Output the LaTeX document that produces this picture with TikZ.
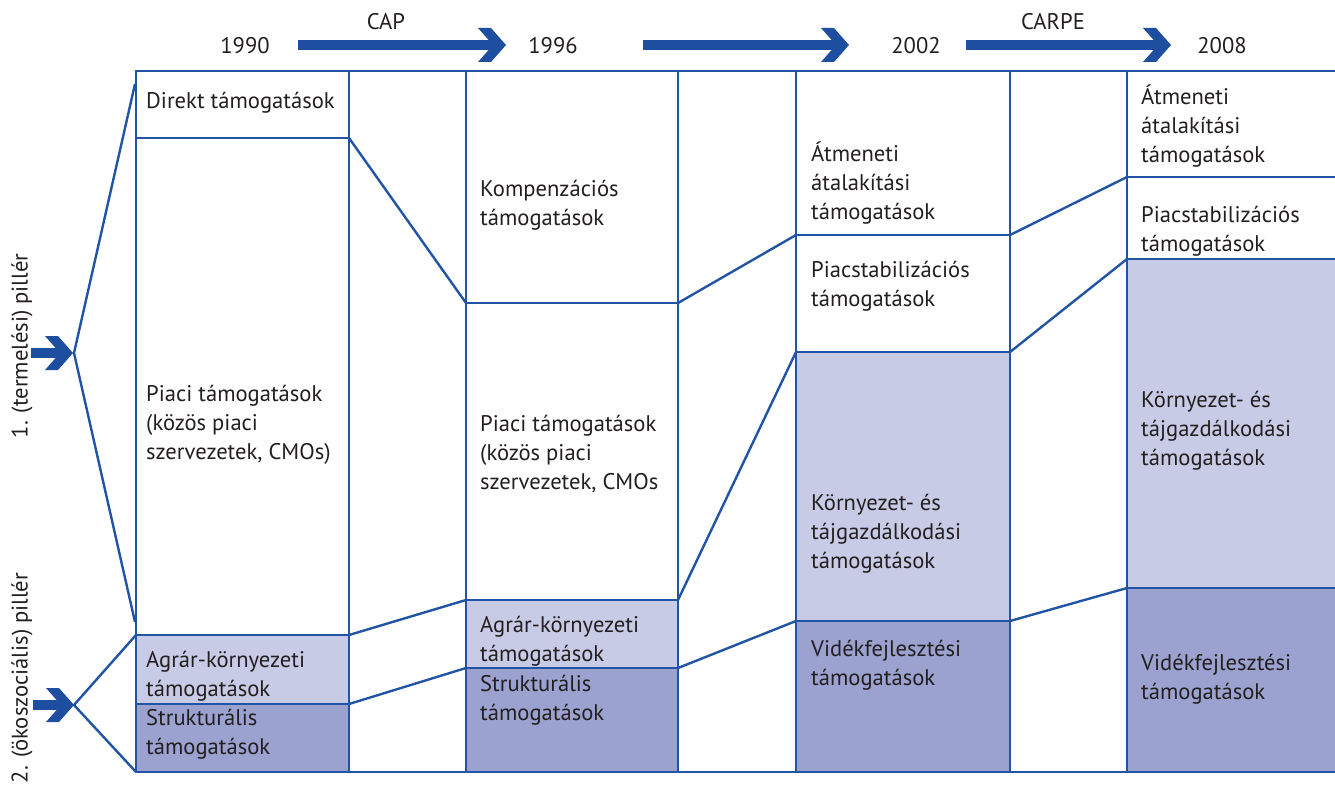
\documentclass[tikz,border=0pt]{standalone}
\usepackage{fontspec}
\setmainfont{PT Sans}
\usetikzlibrary{calc}
\definecolor{lineblue}{RGB}{33,84,164}
\definecolor{arrowblue}{RGB}{30,78,160}
\definecolor{lightfill}{RGB}{200,203,230}
\definecolor{darkfill}{RGB}{155,162,208}
\definecolor{textcol}{RGB}{35,31,32}
\newcommand\fs{\fontsize{22.6}{29}\selectfont}
\newcommand\tl[1]{\begin{tabular}[t]{@{}l@{}}#1\end{tabular}}
\newcommand\chevarrow[2]{%
  \fill[arrowblue] ($(#1)+(0,-5)$) rectangle ($(#2)+(-12,5)$);
  \fill[arrowblue] ($(#2)+(-28,-17)$) -- ($(#2)+(-15,-17)$) -- (#2) -- ($(#2)+(-15,17)$) -- ($(#2)+(-28,17)$) -- ($(#2)+(-13,0)$) -- cycle;
}
\tikzset{
  cell/.style={draw=lineblue, line width=2.4pt, anchor=north west, inner sep=0pt, outer sep=0pt},
  plain/.style={cell, fill=white},
  light/.style={cell, fill=lightfill},
  dark/.style={cell, fill=darkfill},
  conn/.style={draw=lineblue, line width=2.4pt, line join=round},
  lbl/.style={anchor=base west, inner sep=0pt, text=textcol, font=\fs},
  year/.style={inner sep=0pt, text=textcol, font=\fs},
  pillar/.style={inner sep=0pt, text=textcol, font=\fs, rotate=90},
}
\begin{document}
\begin{tikzpicture}[x=1pt,y=-1pt]
\useasboundingbox (0,0) rectangle (1335,789);

% column 1990
\node[plain, minimum width=213pt, minimum height=67pt]  (d90dir) at (136,71) {};
\node[plain, minimum width=213pt, minimum height=497pt] (d90pia) at (136,138) {};
\node[light, minimum width=213pt, minimum height=69pt]  (d90agr) at (136,635) {};
\node[dark,  minimum width=213pt, minimum height=68pt]  (d90str) at (136,704) {};
% column 1996
\node[plain, minimum width=212pt, minimum height=232pt] (d96komp) at (466,71) {};
\node[plain, minimum width=212pt, minimum height=297pt] (d96pia) at (466,303) {};
\node[light, minimum width=212pt, minimum height=68pt]  (d96agr) at (466,600) {};
\node[dark,  minimum width=212pt, minimum height=104pt] (d96str) at (466,668) {};
% column 2002
\node[plain, minimum width=214pt, minimum height=164pt] (d02atm) at (796,71) {};
\node[plain, minimum width=214pt, minimum height=117pt] (d02pst) at (796,235) {};
\node[light, minimum width=214pt, minimum height=269pt] (d02kor) at (796,352) {};
\node[dark,  minimum width=214pt, minimum height=151pt] (d02vid) at (796,621) {};
% column 2008
\node[plain, minimum width=230pt, minimum height=106pt] (d08atm) at (1127,71) {};
\node[plain, minimum width=230pt, minimum height=82pt]  (d08pst) at (1127,177) {};
\node[light, minimum width=230pt, minimum height=329pt] (d08kor) at (1127,259) {};
\node[dark,  minimum width=230pt, minimum height=184pt] (d08vid) at (1127,588) {};

% outer top and bottom lines
\coordinate (topR) at (1345,71);
\coordinate (botR) at (1345,772);
\draw[conn] (d90dir.north west) -- (topR);
\draw[conn] (d90str.south west) -- (botR);

% connectors between columns
\draw[conn] (d90dir.south east) -- (d96komp.south west);
\draw[conn] (d90agr.north east) -- (d96agr.north west);
\draw[conn] (d90str.north east) -- (d96str.north west);
\draw[conn] (d96komp.south east) -- (d02atm.south west);
\draw[conn] (d96agr.north east) -- (d02kor.north west);
\draw[conn] (d96str.north east) -- (d02vid.north west);
\draw[conn] (d02atm.south east) -- (d08atm.south west);
\draw[conn] (d02pst.south east) -- (d08pst.south west);
\draw[conn] (d02vid.north east) -- (d08vid.north west);

% pillar braces
\coordinate (b1top) at (135,84);
\coordinate (b1v) at (74,353);
\coordinate (b1bot) at (135,622);
\coordinate (b2v) at (74,705);
\draw[conn] (b1top) -- (b1v) -- (b1bot);
\draw[conn] (d90agr.north west) -- (b2v) -- (d90str.south west);

% texts 1990
\node[lbl] (t90dir) at (146,109) {\tl{Direkt támogatások}};
\node[lbl] (t90pia) at (146,401) {\tl{Piaci támogatások\\(közös piaci\\szervezetek, CMOs)}};
\node[lbl] (t90agr) at (146,667) {\tl{Agrár-környezeti\\támogatások}};
\node[lbl] (t90str) at (146,725) {\tl{Strukturális\\támogatások}};
% texts 1996
\node[lbl] (t96komp) at (480,196) {\tl{Kompenzációs\\támogatások}};
\node[lbl] (t96pia) at (480,431) {\tl{Piaci támogatások\\(közös piaci\\szervezetek, CMOs}};
\node[lbl] (t96agr) at (480,632) {\tl{Agrár-környezeti\\támogatások}};
\node[lbl] (t96str) at (480,691) {\tl{Strukturális\\támogatások}};
% texts 2002
\node[lbl] (t02atm) at (811,161) {\tl{Átmeneti\\átalakítási\\támogatások}};
\node[lbl] (t02pst) at (811,277) {\tl{Piacstabilizációs\\támogatások}};
\node[lbl] (t02kor) at (811,510) {\tl{Környezet- és\\tájgazdálkodási\\támogatások}};
\node[lbl] (t02vid) at (811,656) {\tl{Vidékfejlesztési\\támogatások}};
% texts 2008
\node[lbl] (t08atm) at (1141,105) {\tl{Átmeneti\\átalakítási\\támogatások}};
\node[lbl] (t08pst) at (1141,222) {\tl{Piacstabilizációs\\támogatások}};
\node[lbl] (t08kor) at (1141,407) {\tl{Környezet- és\\tájgazdálkodási\\támogatások}};
\node[lbl] (t08vid) at (1141,670) {\tl{Vidékfejlesztési\\támogatások}};

% timeline
\node[year] (y1990) at (245,46) {1990};
\node[year] (y1996) at (553,46) {1996};
\node[year] (y2002) at (916,46) {2002};
\node[year] (y2008) at (1222,46) {2008};
\node[year] (lcap) at (386,22) {CAP};
\node[year] (lcarpe) at (1053,22) {CARPE};
\coordinate (a1s) at (298,45); \coordinate (a1t) at (506,45);
\coordinate (a2s) at (643,45); \coordinate (a2t) at (849,45);
\coordinate (a3s) at (966,45); \coordinate (a3t) at (1171,45);
\chevarrow{a1s}{a1t}
\chevarrow{a2s}{a2t}
\chevarrow{a3s}{a3t}

% pillar labels and arrows
\node[pillar] (p1) at (22,346) {1. (termelési) pillér};
\node[pillar] (p2) at (22,678) {2. (ökoszociális) pillér};
\coordinate (l1s) at (31,353); \coordinate (l1t) at (73,353);
\coordinate (l2s) at (33,705); \coordinate (l2t) at (74,705);
\chevarrow{l1s}{l1t}
\chevarrow{l2s}{l2t}
\end{tikzpicture}
\end{document}
